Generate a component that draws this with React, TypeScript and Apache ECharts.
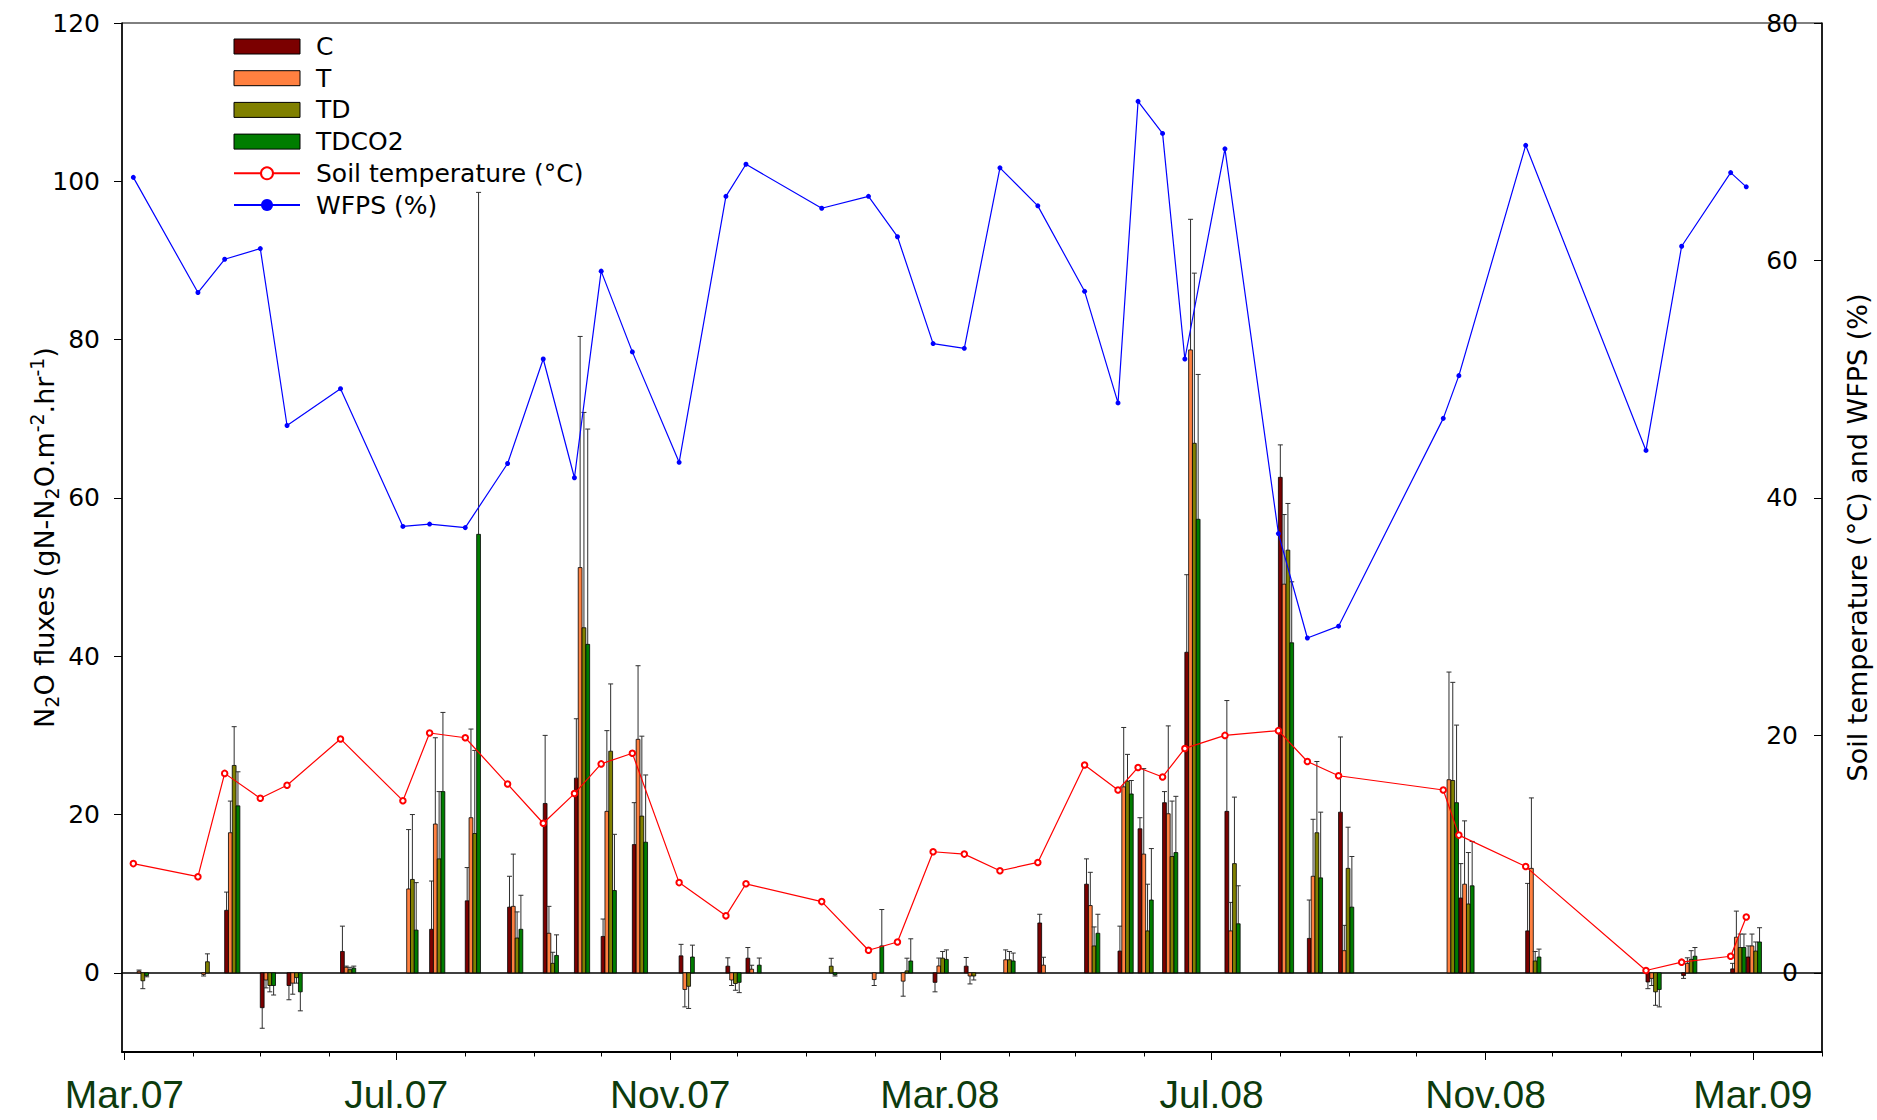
import React, { useEffect, useRef } from 'react';
import * as echarts from 'echarts';

// ---- sampling dates (shared by bars and lines) ----
const sampleDates = [
  '2007-03-05', '2007-04-03', '2007-04-15', '2007-05-01', '2007-05-13', '2007-06-06',
  '2007-07-04', '2007-07-16', '2007-08-01', '2007-08-20', '2007-09-05', '2007-09-19',
  '2007-10-01', '2007-10-15', '2007-11-05', '2007-11-26', '2007-12-05', '2008-01-08',
  '2008-01-29', '2008-02-11', '2008-02-27', '2008-03-12', '2008-03-28', '2008-04-14',
  '2008-05-05', '2008-05-20', '2008-05-29', '2008-06-09', '2008-06-19', '2008-07-07',
  '2008-07-31', '2008-08-13', '2008-08-27', '2008-10-13', '2008-10-20', '2008-11-19',
  '2009-01-12', '2009-01-28', '2009-02-19', '2009-02-26',
];

// ---- N2O fluxes (left axis) and their error bars ----
const cValues = [
  0, 0, 7.9, -4.4, -1.6, 2.7, 0, 5.5, 9.1, 8.3, 21.4, 24.6, 4.6, 16.2, 2.15, 0.84, 1.85, 0, 0, 0,
  -1.2, 0.84, 0, 6.3, 11.2, 2.75, 18.2, 21.5, 40.5, 20.4, 62.6, 4.35, 20.3, 0, 9.45, 5.3, -1.15, -0.35, 0.5, 2.0,
];
const cErrors = [
  0, 0, 2.3, 2.6, 1.8, 3.2, 0, 6.1, 4.2, 3.9, 8.6, 7.5, 2.2, 5.3, 1.45, 1.06, 1.35, 0, 0, 0,
  1.2, 1.1, 0, 1.1, 3.2, 3.15, 1.4, 1.4, 9.8, 14.0, 4.1, 4.85, 9.5, 0, 4.35, 6.0, 0.85, 0.35, 0.7, 1.4,
];
const tValues = [
  0.2, -0.2, 17.7, -0.9, -1.3, 0.7, 10.6, 18.8, 19.6, 8.4, 5.0, 51.2, 20.4, 29.5, -2.1, -0.9, 0.46, 0, -0.85, -1.05,
  0.87, -0.4, 1.65, 0.97, 8.5, 23.5, 15.0, 20.1, 78.7, 5.3, 49.1, 12.2, 2.8, 24.4, 11.2, 13.2, -0.7, 1.2, 4.5, 3.4,
];
const tErrors = [
  0.15, 0.2, 4.0, 1.0, 1.4, 0.15, 7.5, 10.9, 11.2, 6.6, 3.4, 29.2, 10.2, 9.3, 2.2, 0.7, 0.5, 0, 0.75, 1.9,
  1.0, 1.0, 1.25, 1.0, 4.2, 7.5, 10.8, 11.1, 16.5, 3.6, 8.8, 7.2, 3.2, 13.6, 8.0, 8.9, 0.9, 0.7, 3.3, 1.5,
];
const tdValues = [
  -1.0, 1.4, 26.2, -1.6, -0.6, 0.4, 11.8, 14.4, 17.6, 4.4, 1.2, 43.6, 28.0, 19.8, -1.7, -1.35, 0, 0.84, 0, 0.25,
  1.85, -0.4, 1.65, 0, 3.4, 24.2, 5.3, 14.7, 66.9, 13.8, 53.4, 17.7, 13.2, 24.3, 8.7, 1.5, -2.4, 1.7, 3.2, 2.75,
];
const tdErrors = [
  1.0, 1.0, 4.9, 0.8, 0.7, 0.3, 8.2, 8.5, 10.5, 3.3, 1.4, 27.2, 8.5, 10.1, 2.8, 0.85, 0, 1.0, 0, 1.6,
  0.85, 0.5, 1.05, 0, 2.4, 3.4, 5.9, 7.0, 21.5, 8.4, 5.9, 9.0, 5.2, 12.4, 6.5, 1.2, 1.7, 1.1, 1.7, 1.15,
];
const tdco2Values = [
  -0.35, 0, 21.1, -1.6, -2.4, 0.6, 5.4, 22.9, 55.4, 5.5, 2.2, 41.5, 10.4, 16.5, 2.0, -1.2, 0.97, -0.25, 3.4, 1.5,
  1.7, 0, 1.5, 0, 5.0, 22.6, 9.2, 15.2, 57.3, 6.2, 41.7, 12.0, 8.3, 21.5, 11.0, 2.0, -2.1, 2.1, 3.2, 3.9,
];
const tdco2Errors = [
  0.15, 0, 4.3, 1.2, 2.4, 0.25, 6.0, 10.0, 43.2, 4.3, 2.6, 27.2, 7.1, 8.5, 1.5, 1.3, 0.9, 0.15, 4.6, 2.8,
  1.2, 0, 1.0, 0, 2.4, 1.7, 6.5, 7.1, 18.3, 4.8, 7.7, 8.3, 6.4, 9.8, 5.6, 1.0, 2.2, 1.1, 1.7, 1.8,
];

// ---- right axis lines ----
const soilTemperature = [
  9.2, 8.1, 16.8, 14.7, 15.8, 19.7, 14.5, 20.2, 19.8, 15.9, 12.6, 15.1, 17.6, 18.5, 7.6, 4.8, 7.5, 6.0, 1.9, 2.6,
  10.2, 10.0, 8.6, 9.3, 17.5, 15.4, 17.3, 16.5, 18.9, 20.0, 20.4, 17.8, 16.6, 15.4, 11.6, 8.95, 0.2, 0.9, 1.4, 4.7,
];
const wfps = [
  67.0, 57.3, 60.1, 61.0, 46.1, 49.2, 37.6, 37.8, 37.5, 42.9, 51.7, 41.7, 59.1, 52.3, 43.0, 65.4, 68.1, 64.4, 65.4, 62.0,
  53.0, 52.6, 67.8, 64.6, 57.4, 48.0, 73.4, 70.7, 51.7, 69.4, 37.0, 28.2, 29.2, 46.7, 50.3, 69.7, 44.0, 61.2, 67.4, 66.2,
];

// ---- ticks ----
const majorTickDates = ['2007-03-01', '2007-07-01', '2007-11-01', '2008-03-01', '2008-07-01', '2008-11-01', '2009-03-01'];
const xTickLabels = ['Mar.07', 'Jul.07', 'Nov.07', 'Mar.08', 'Jul.08', 'Nov.08', 'Mar.09'];
const monthTickDates = [
  '2007-03-01', '2007-04-01', '2007-05-01', '2007-06-01', '2007-07-01', '2007-08-01', '2007-09-01',
  '2007-10-01', '2007-11-01', '2007-12-01', '2008-01-01', '2008-02-01', '2008-03-01', '2008-04-01',
  '2008-05-01', '2008-06-01', '2008-07-01', '2008-08-01', '2008-09-01', '2008-10-01', '2008-11-01',
  '2008-12-01', '2009-01-01', '2009-02-01', '2009-03-01', '2009-04-01',
];
const leftTicks = [0, 20, 40, 60, 80, 100, 120];
const rightTicks = [0, 20, 40, 60, 80];

const ts = (s: string) => new Date(s + 'T00:00:00').getTime();
const X_MIN = ts('2007-02-27') + 22 * 3600 * 1000;
const X_MAX = ts('2009-04-01');

const F = "'DejaVu Sans', sans-serif";
const XF = "'Liberation Sans Narrow', 'Arial Narrow', 'Liberation Sans', sans-serif";
const BAR_W = 3.8;
const CAP_W = 5;
const ERR_COLOR = '#2e2e2e';

const treatments = [
  { name: 'C', color: '#7b0000', values: cValues, errors: cErrors },
  { name: 'T', color: '#ff8040', values: tValues, errors: tErrors },
  { name: 'TD', color: '#808000', values: tdValues, errors: tdErrors },
  { name: 'TDCO2', color: '#007d00', values: tdco2Values, errors: tdco2Errors },
];

function makeRenderItem(k: number, color: string) {
  return (_params: any, api: any) => {
    const d = api.value(0);
    const v = api.value(1);
    const e = api.value(2);
    const base = api.coord([d, 0]);
    const top = api.coord([d, v]);
    const end = api.coord([d, v + (v >= 0 ? e : -e)]);
    const x0 = base[0] + k * BAR_W;
    const xc = x0 + BAR_W / 2;
    const children: any[] = [];
    if (e > 0) {
      children.push({
        type: 'line',
        shape: { x1: xc, y1: top[1], x2: xc, y2: end[1] },
        style: { stroke: ERR_COLOR, lineWidth: 1 },
      });
      children.push({
        type: 'line',
        shape: { x1: xc - CAP_W / 2, y1: end[1], x2: xc + CAP_W / 2, y2: end[1] },
        style: { stroke: ERR_COLOR, lineWidth: 1 },
      });
    }
    children.push({
      type: 'rect',
      shape: { x: x0, y: Math.min(base[1], top[1]), width: BAR_W, height: Math.abs(base[1] - top[1]) },
      style: { fill: color, stroke: '#000', lineWidth: 0.8 },
    });
    return { type: 'group', children };
  };
}

export default function App() {
  const ref = useRef<HTMLDivElement>(null);

  useEffect(() => {
    document.body.style.margin = '0';
    if (!ref.current) return;
    const chart = echarts.init(ref.current, undefined, { renderer: 'svg' });
    const majorTs = majorTickDates.map(ts);
    const monthTs = monthTickDates.map(ts);

    const barSeries = treatments.map((tr, k) => ({
      type: 'custom',
      name: tr.name,
      xAxisIndex: 0,
      yAxisIndex: 0,
      z: 2,
      itemStyle: { color: tr.color, borderColor: '#000', borderWidth: 1 },
      renderItem: makeRenderItem(k, tr.color),
      encode: { x: 0, y: 1 },
      data: sampleDates
        .map((d, i) => (tr.values[i] === 0 ? null : [ts(d), tr.values[i], tr.errors[i]]))
        .filter((x) => x !== null),
    }));

    const option: any = {
      animation: false,
      backgroundColor: '#fff',
      textStyle: { fontFamily: F },
      grid: {
        left: 122, right: 55, top: 23, bottom: 68,
        show: true, borderColor: '#000', borderWidth: 1, containLabel: false, outerBoundsMode: 'none',
      },
      legend: {
        orient: 'vertical', left: 233, top: 34, padding: 0,
        itemWidth: 66, itemHeight: 15, itemGap: 6.7, selectedMode: false,
        textStyle: { fontFamily: F, fontSize: 25, color: '#000', lineHeight: 25, padding: [0, 0, 0, 11] },
        data: [
          ...treatments.map((tr) => ({
            name: tr.name, icon: 'rect',
            itemStyle: { color: tr.color, borderColor: '#000', borderWidth: 1 },
          })),
          { name: 'Soil temperature (°C)' },
          { name: 'WFPS (%)' },
        ],
      },
      xAxis: [
        {
          type: 'value', min: X_MIN, max: X_MAX, position: 'bottom',
          axisLine: { show: true, onZero: false, lineStyle: { color: '#000', width: 2 } },
          axisTick: { show: true, customValues: majorTs, length: 8, lineStyle: { color: '#000', width: 1 } },
          axisLabel: {
            show: true, customValues: majorTs, margin: 23, color: '#0d3b0d', fontSize: 39, fontFamily: XF,
            formatter: (v: number) => {
              const i = majorTs.indexOf(v);
              return i >= 0 ? xTickLabels[i] : '';
            },
          },
          splitLine: { show: false },
        },
        {
          type: 'value', min: X_MIN, max: X_MAX, position: 'bottom',
          axisLine: { show: false, onZero: false },
          axisTick: { show: true, customValues: monthTs, length: 4.5, lineStyle: { color: '#000', width: 1 } },
          axisLabel: { show: false },
          splitLine: { show: false },
        },
        {
          type: 'value', min: X_MIN, max: X_MAX,
          axisLine: { show: true, onZero: true, onZeroAxisIndex: 0, lineStyle: { color: '#000', width: 1.5 } },
          axisTick: { show: false },
          axisLabel: { show: false },
          splitLine: { show: false },
        },
      ],
      yAxis: [
        {
          type: 'value', position: 'left', min: -10, max: 120,
          axisLine: { show: true, onZero: false, lineStyle: { color: '#000', width: 1.5 } },
          axisTick: { show: true, customValues: leftTicks, length: 8, lineStyle: { color: '#000', width: 1 } },
          axisLabel: { customValues: leftTicks, margin: 22, fontSize: 25, fontFamily: F, color: '#000' },
          splitLine: { show: false },
          name: '{a|N}{s|2}{a|O fluxes (gN-N}{s|2}{a|O.m}{p|-2}{a|.hr}{p|-1}{a|)}',
          nameLocation: 'middle', nameRotate: 90, nameGap: 61, nameMoveOverlap: false,
          nameTextStyle: {
            fontFamily: F, fontSize: 27, color: '#000',
            rich: {
              a: { fontFamily: F, fontSize: 27, lineHeight: 34, color: '#000' },
              s: { fontFamily: F, fontSize: 19, lineHeight: 19, verticalAlign: 'bottom', color: '#000' },
              p: { fontFamily: F, fontSize: 19, lineHeight: 19, verticalAlign: 'top', color: '#000' },
            },
          },
        },
        {
          type: 'value', position: 'right', min: -20 / 3, max: 80,
          axisLine: { show: true, onZero: false, lineStyle: { color: '#000', width: 1.5 } },
          axisTick: { show: true, inside: true, customValues: rightTicks, length: 8, lineStyle: { color: '#000', width: 1 } },
          axisLabel: { inside: true, customValues: rightTicks, margin: 24, fontSize: 25, fontFamily: F, color: '#000' },
          splitLine: { show: false },
          name: 'Soil temperature (°C) and WFPS (%)',
          nameLocation: 'middle', nameRotate: 90, nameGap: 22, nameMoveOverlap: false,
          nameTextStyle: { fontFamily: F, fontSize: 27, color: '#000' },
        },
      ],
      series: [
        ...barSeries,
        {
          type: 'line', name: 'Soil temperature (°C)', xAxisIndex: 0, yAxisIndex: 1, z: 3,
          data: sampleDates.map((d, i) => [ts(d), soilTemperature[i]]),
          symbol: 'emptyCircle', symbolSize: 5.5,
          lineStyle: { color: '#ff0000', width: 1.2 },
          itemStyle: { color: '#ff0000', borderColor: '#ff0000', borderWidth: 1.2 },
        },
        {
          type: 'line', name: 'WFPS (%)', xAxisIndex: 0, yAxisIndex: 1, z: 3,
          data: sampleDates.map((d, i) => [ts(d), wfps[i]]),
          symbol: 'circle', symbolSize: 5,
          lineStyle: { color: '#0000ff', width: 1.2 },
          itemStyle: { color: '#0000ff' },
        },
      ],
    };
    chart.setOption(option);
    return () => chart.dispose();
  }, []);

  return <div ref={ref} style={{ width: 1877, height: 1120 }} />;
}
